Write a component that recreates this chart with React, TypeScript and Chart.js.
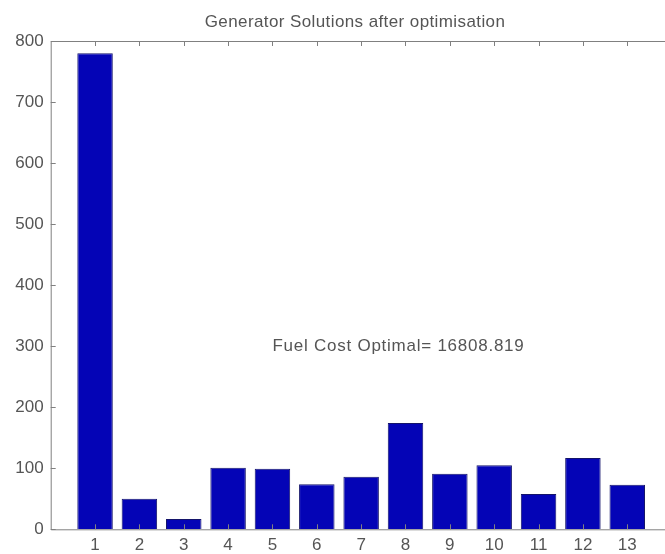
import React, { useEffect, useRef } from "react";
import { Chart, registerables } from "chart.js";

Chart.register(...registerables);

const generators = [1, 2, 3, 4, 5, 6, 7, 8, 9, 10, 11, 12, 13];
const powerOutput = [780, 50, 17, 101, 99, 74, 86, 174, 91, 105, 58, 117, 73];
const yTickValues = [0, 100, 200, 300, 400, 500, 600, 700, 800];
const chartTitle = "Generator Solutions after optimisation";
const annotationText = "Fuel Cost Optimal= 16808.819";
const annotationX = 5;
const annotationY = 300;

const FONT = "'Liberation Sans', Arial, Helvetica, sans-serif";
const TEXT_COLOR = "#555555";
const AXIS_COLOR = "#808080";

const frameAndTicks = {
  id: "frameAndTicks",
  afterDatasetsDraw(chart: any) {
    const { ctx, chartArea } = chart;
    const xs = chart.scales.x;
    const ys = chart.scales.y;
    const { left, right, top, bottom } = chartArea;
    ctx.save();
    ctx.strokeStyle = AXIS_COLOR;
    ctx.lineWidth = 1;
    ctx.beginPath();
    ctx.rect(left + 0.5, top + 0.5, right - left, bottom - top);
    ctx.stroke();
    const tl = 5;
    ctx.beginPath();
    xs.ticks.forEach((t: any) => {
      const px = Math.round(xs.getPixelForValue(t.value)) + 0.5;
      ctx.moveTo(px, bottom);
      ctx.lineTo(px, bottom - tl);
      ctx.moveTo(px, top);
      ctx.lineTo(px, top + tl);
    });
    ys.ticks.forEach((t: any) => {
      const py = Math.round(ys.getPixelForValue(t.value)) + 0.5;
      ctx.moveTo(left, py);
      ctx.lineTo(left + tl, py);
      ctx.moveTo(right, py);
      ctx.lineTo(right - tl, py);
    });
    ctx.stroke();
    ctx.fillStyle = TEXT_COLOR;
    // title
    ctx.font = `17px ${FONT}`;
    (ctx as any).letterSpacing = "0.4px";
    ctx.textAlign = "center";
    ctx.textBaseline = "alphabetic";
    ctx.fillText(chartTitle, 355, 27);
    // annotation text at data coordinates
    (ctx as any).letterSpacing = "0.75px";
    ctx.textAlign = "left";
    ctx.textBaseline = "middle";
    ctx.fillText(
      annotationText,
      xs.getPixelForValue(annotationX),
      ys.getPixelForValue(annotationY)
    );
    ctx.restore();
  },
};

export default function App() {
  const ref = useRef<HTMLCanvasElement | null>(null);
  useEffect(() => {
    if (!ref.current) return;
    const chart = new Chart(ref.current, {
      type: "bar",
      data: {
        datasets: [
          {
            data: generators.map((g, i) => ({ x: g, y: powerOutput[i] })),
            backgroundColor: "#0404b6",
            borderColor: "#14146a",
            borderWidth: 1,
            barPercentage: 0.8,
            categoryPercentage: 1,
          },
        ],
      },
      options: {
        responsive: false,
        animation: false,
        layout: { padding: { left: 0, right: 42.4, top: 41, bottom: 0 } },
        plugins: {
          legend: { display: false },
          tooltip: { enabled: false },
          title: { display: false },
        },
        scales: {
          x: {
            type: "linear",
            min: 0,
            max: 14,
            offset: false,
            grid: { display: false, drawTicks: false, offset: false },
            border: { display: false },
            afterBuildTicks: (s: any) => {
              s.ticks = generators.map((v) => ({ value: v }));
            },
            afterFit: (s: any) => {
              s.height = 24.7;
            },
            ticks: {
              color: TEXT_COLOR,
              font: { family: FONT, size: 17 },
              padding: 6,
              maxRotation: 0,
              autoSkip: false,
              callback: (v: any) => String(v),
            },
          },
          y: {
            type: "linear",
            min: 0,
            max: 800,
            grid: { display: false, drawTicks: false },
            border: { display: false },
            afterBuildTicks: (s: any) => {
              s.ticks = yTickValues.map((v) => ({ value: v }));
            },
            afterFit: (s: any) => {
              s.width = 50.7;
            },
            ticks: {
              color: TEXT_COLOR,
              font: { family: FONT, size: 17 },
              padding: 7,
              callback: (v: any) => String(v),
            },
          },
        },
      },
      plugins: [frameAndTicks],
    });
    return () => chart.destroy();
  }, []);
  return (
    <div
      style={{
        position: "fixed",
        left: 0,
        top: 0,
        width: 665,
        height: 554,
        overflow: "hidden",
        background: "#ffffff",
      }}
    >
      <canvas ref={ref} width={714} height={554} />
    </div>
  );
}
